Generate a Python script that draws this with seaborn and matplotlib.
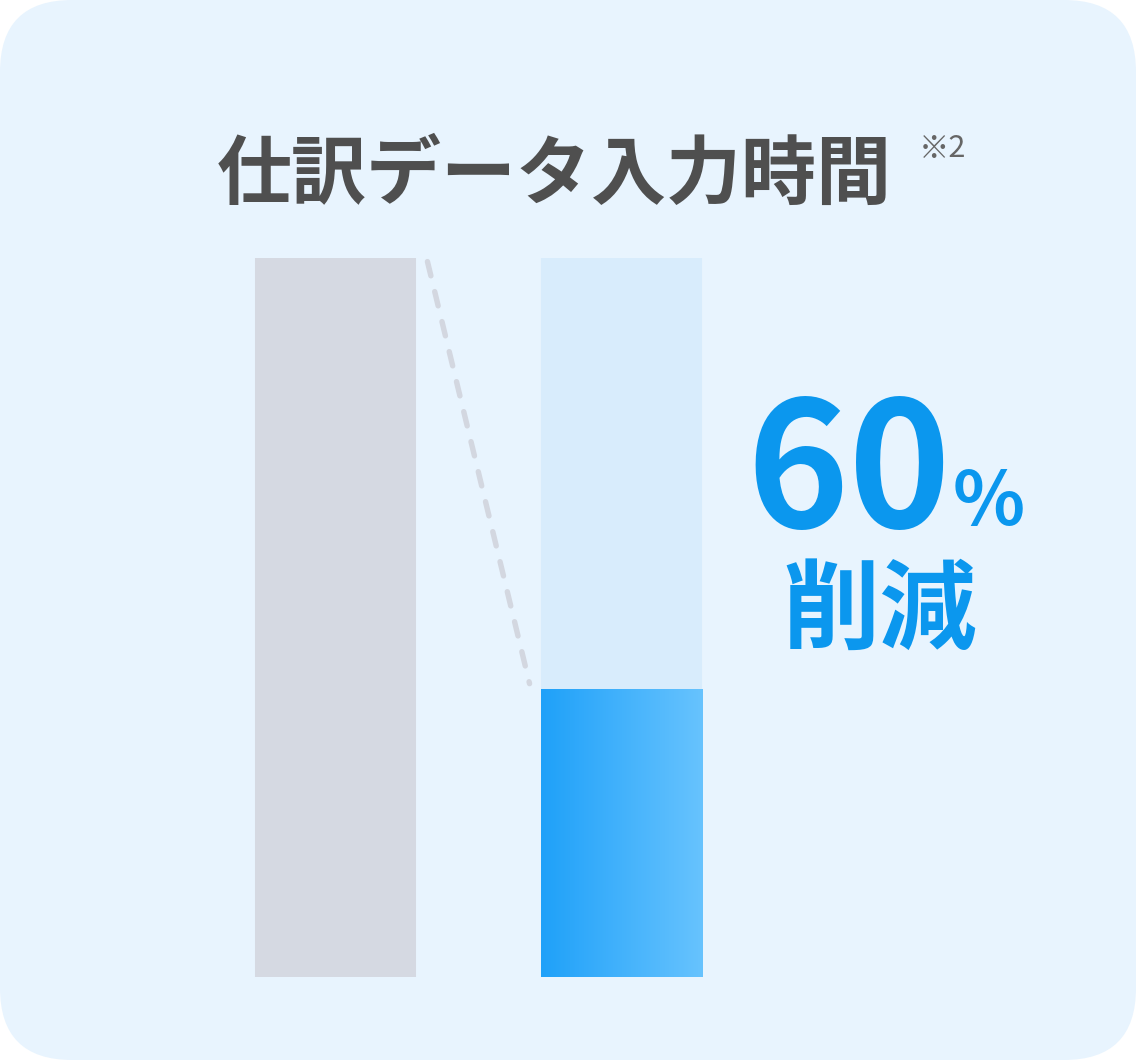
import matplotlib.pyplot as plt
import matplotlib.colors as mcolors
import numpy as np
import seaborn as sns
import pandas as pd
from matplotlib.patches import FancyBboxPatch

# data
stages = ["導入前", "導入後"]
input_time = [100, 40]          # relative input time (before = 100)
track_max = [100, 100]          # light track behind the bars
reduction_label = "60"

TITLE = "仕訳データ入力時間"
NOTE = "※2"
W, H = 1136, 1062
DPI = 100

BG = "#E8F4FE"
GRAY = "#D5D9E2"
TRACK = "#D8ECFC"
BLUE = "#0B97EE"
TXT = "#4F4F4F"

sns.set_theme(style="white")
plt.rcParams["font.family"] = ["Noto Sans CJK JP", "DejaVu Sans"]

fig = plt.figure(figsize=(W / DPI, H / DPI), dpi=DPI)
fig.patch.set_facecolor("white")

# background card, pixel coordinates
ax_bg = fig.add_axes([0, 0, 1, 1])
ax_bg.set_xlim(0, W)
ax_bg.set_ylim(H, 0)
ax_bg.axis("off")
ax_bg.add_patch(FancyBboxPatch((72, 72), W - 144, H - 2 - 144,
                               boxstyle="round,pad=72", fc=BG, ec="none"))

# chart axes on top
ax = fig.add_axes([0, 0, 1, 1])
ax.patch.set_alpha(0)
df = pd.DataFrame({"stage": stages, "time": input_time, "track": track_max})
bw = 0.563
sns.barplot(df, x="stage", y="track", ax=ax, width=bw,
            palette=[GRAY, TRACK], hue="stage", legend=False,
            saturation=1, linewidth=0, order=stages)
sns.barplot(df.iloc[[1]], x="stage", y="time", ax=ax, width=bw,
            color=BLUE, saturation=1, linewidth=0, order=stages)
after_bar = ax.patches[-1]

# small rounded top corners on the full-height bars
for p in ax.patches[:2]:
    p.set_visible(False)
    ax.add_patch(FancyBboxPatch((p.get_x(), p.get_y()), p.get_width(), p.get_height(),
                                boxstyle="round,pad=0,rounding_size=0.015",
                                mutation_aspect=0.52, fc=p.get_facecolor(), ec="none",
                                zorder=1))
    ax.add_patch(plt.Rectangle((p.get_x(), p.get_y()), p.get_width(), p.get_height() * 0.9,
                               fc=p.get_facecolor(), ec="none", zorder=1))

# horizontal gradient on the "after" bar
x0, y0 = after_bar.get_x(), after_bar.get_y()
x1, y1 = x0 + after_bar.get_width(), y0 + after_bar.get_height()
grad = mcolors.LinearSegmentedColormap.from_list("g", ["#1FA1F9", "#67C3FE"])
img = ax.imshow(np.linspace(0, 1, 256)[None, :], cmap=grad, aspect="auto",
                extent=(x0, x1, y0, y1), zorder=3, interpolation="bicubic")
img.set_clip_path(after_bar)

# dashed connector between bar tops
gap = 0.04
ax.plot([0 + bw / 2 + gap, 1 - bw / 2 - gap], [input_time[0] - 0.5, input_time[1] + 0.8],
        color="#D3D7E0", lw=3.9, dashes=(2.7, 3.0), dash_capstyle="round", zorder=4)

# axes limits so bars land where the card layout wants them
ppu = (977 - 258) / 100.0
ax.set_xlim(-335.5 / 286, (W - 335.5) / 286)
ax.set_ylim(-(H - 977) / ppu, 100 + 258 / ppu)
ax.axis("off")

# texts
ax_bg.text(554, 176, TITLE, ha="center", va="center", fontsize=54,
           fontweight="bold", color=TXT)
ax_bg.text(919, 148, NOTE, ha="left", va="center", fontsize=22, color="#666666")
ax_bg.text(746, 528, reduction_label, ha="left", va="baseline", fontsize=125,
           fontweight="bold", color=BLUE)
ax_bg.text(953, 525, "%", ha="left", va="baseline", fontsize=54,
           fontweight="bold", color=BLUE)
ax_bg.text(880, 612, "削減", ha="center", va="center", fontsize=70,
           fontweight="bold", color=BLUE)

fig.savefig("out.png", dpi=DPI, facecolor="white")
